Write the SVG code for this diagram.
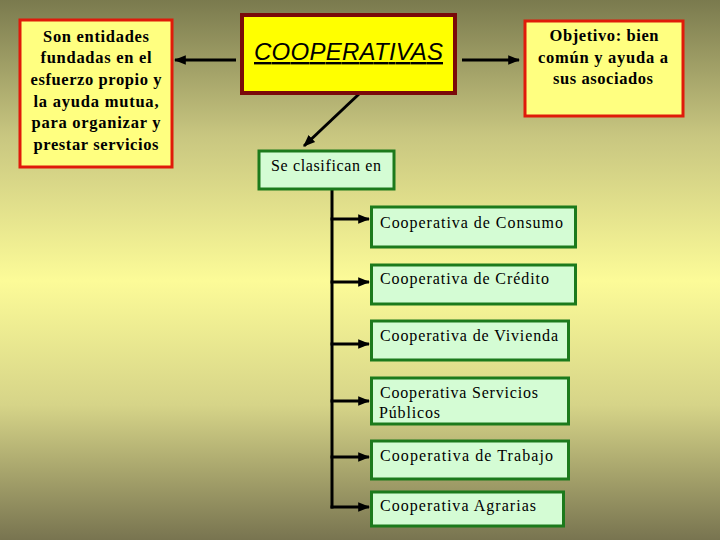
<svg xmlns="http://www.w3.org/2000/svg" width="720" height="540" viewBox="0 0 720 540">
<defs>
<linearGradient id="bg" x1="0" y1="0" x2="0" y2="1">
<stop offset="0" stop-color="#7a7a4e"/>
<stop offset="0.25" stop-color="#c8c680"/>
<stop offset="0.52" stop-color="#fcfb98"/>
<stop offset="0.75" stop-color="#d6d488"/>
<stop offset="1" stop-color="#787450"/>
</linearGradient>
<marker id="ah" viewBox="0 0 10 10" refX="9" refY="5" markerWidth="4" markerHeight="4" orient="auto" markerUnits="strokeWidth">
<path d="M0,1 L10,5 L0,9 z" fill="#000"/>
</marker>
<style>
.note{fill:#ffff80;stroke:#e01a0a;stroke-width:3}
.main{fill:#ffff00;stroke:#7a0a0a;stroke-width:4}
.cls{fill:#d4fcd4;stroke:#1c7a1c;stroke-width:3}
.bt{font-family:"Liberation Serif","Times New Roman",serif;font-weight:bold;font-size:16.5px;fill:#000;text-anchor:middle}
.st{font-family:"Liberation Serif","Times New Roman",serif;font-size:16px;fill:#000}
.ln{stroke:#000;stroke-width:3;fill:none}
</style>
</defs>
<rect x="0" y="0" width="720" height="540" fill="url(#bg)"/>

<g id="connectors">
<line class="ln" x1="236" y1="60" x2="175" y2="60" marker-end="url(#ah)"/>
<line class="ln" x1="462" y1="60" x2="519" y2="60" marker-end="url(#ah)"/>
<line class="ln" x1="359" y1="94" x2="304" y2="146" marker-end="url(#ah)"/>
<line class="ln" x1="332" y1="190" x2="332" y2="508.5"/>
<line class="ln" x1="330.5" y1="219" x2="369" y2="219" marker-end="url(#ah)"/>
<line class="ln" x1="330.5" y1="282" x2="369" y2="282" marker-end="url(#ah)"/>
<line class="ln" x1="330.5" y1="344" x2="369" y2="344" marker-end="url(#ah)"/>
<line class="ln" x1="330.5" y1="401" x2="369" y2="401" marker-end="url(#ah)"/>
<line class="ln" x1="330.5" y1="457" x2="369" y2="457" marker-end="url(#ah)"/>
<line class="ln" x1="330.5" y1="507" x2="369" y2="507" marker-end="url(#ah)"/>
</g>

<g id="definicion">
<rect class="note" x="20" y="20" width="152" height="147"/>
<text class="bt" x="96" y="41.5" textLength="106" lengthAdjust="spacing">Son entidades</text>
<text class="bt" x="96" y="63" textLength="111" lengthAdjust="spacing">fundadas en el</text>
<text class="bt" x="96" y="85" textLength="131" lengthAdjust="spacing">esfuerzo propio y</text>
<text class="bt" x="96" y="106.5" textLength="125" lengthAdjust="spacing">la ayuda mutua,</text>
<text class="bt" x="96" y="128" textLength="129" lengthAdjust="spacing">para organizar y</text>
<text class="bt" x="96" y="149.5" textLength="125" lengthAdjust="spacing">prestar servicios</text>
</g>

<g id="cooperativas">
<rect class="main" x="242" y="15" width="213" height="78"/>
<text x="254" y="60" font-family="'Liberation Sans',Arial,sans-serif" font-style="italic" font-size="24" text-decoration="underline" textLength="189" lengthAdjust="spacing">COOPERATIVAS</text>
</g>

<g id="objetivo">
<rect class="note" x="525" y="21" width="158" height="95"/>
<text class="bt" x="604" y="41" textLength="109" lengthAdjust="spacing">Objetivo: bien</text>
<text class="bt" x="603" y="63" textLength="130" lengthAdjust="spacing">común y ayuda a</text>
<text class="bt" x="603" y="84" textLength="100" lengthAdjust="spacing">sus asociados</text>
</g>

<g id="clasifican">
<rect class="cls" x="259" y="151" width="135" height="38"/>
<text class="st" x="271" y="171" textLength="110" lengthAdjust="spacing">Se clasifican en</text>
</g>

<g id="consumo">
<rect class="cls" x="371.5" y="207" width="204" height="40"/>
<text class="st" x="380" y="228" textLength="183" lengthAdjust="spacing">Cooperativa de Consumo</text>
</g>

<g id="credito">
<rect class="cls" x="371.5" y="265" width="204" height="39"/>
<text class="st" x="380" y="284" textLength="169" lengthAdjust="spacing">Cooperativa de Crédito</text>
</g>

<g id="vivienda">
<rect class="cls" x="371.5" y="321" width="197" height="39"/>
<text class="st" x="380" y="341" textLength="178" lengthAdjust="spacing">Cooperativa de Vivienda</text>
</g>

<g id="servicios">
<rect class="cls" x="371.5" y="378" width="197" height="46"/>
<text class="st" x="380" y="398" textLength="158" lengthAdjust="spacing">Cooperativa Servicios</text>
<text class="st" x="379" y="418" textLength="61" lengthAdjust="spacing">Públicos</text>
</g>

<g id="trabajo">
<rect class="cls" x="371.5" y="441" width="197" height="38"/>
<text class="st" x="380" y="461" textLength="173" lengthAdjust="spacing">Cooperativa de Trabajo</text>
</g>

<g id="agrarias">
<rect class="cls" x="371.5" y="492" width="192" height="34"/>
<text class="st" x="380" y="511" textLength="156" lengthAdjust="spacing">Cooperativa Agrarias</text>
</g>
</svg>
